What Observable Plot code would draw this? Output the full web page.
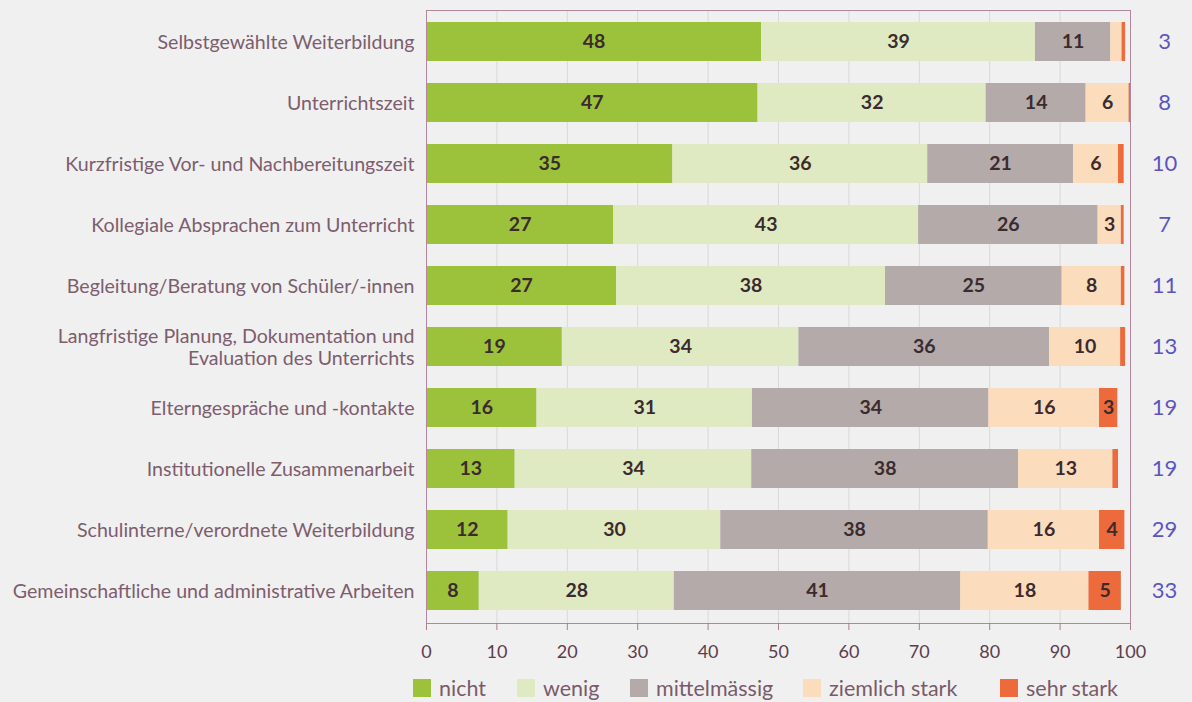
<!DOCTYPE html>
<html><head><meta charset="utf-8">
<script src="https://cdn.jsdelivr.net/npm/d3@7"></script>
<script src="https://cdn.jsdelivr.net/npm/@observablehq/plot@0.6"></script>
<style>
body{margin:0;background:#f0f0f0;font-family:Lato,sans-serif;}
#legend{position:relative;height:37px;font-size:21.5px;color:#7a5a6a;}
.item{position:absolute;top:10px;display:flex;align-items:center;gap:8px}
.sw{width:18px;height:18px;display:inline-block}
</style></head><body>
<div id="chart"></div><div id="legend"></div>
<script>
const categories = [
  "Selbstgewählte Weiterbildung",
  "Unterrichtszeit",
  "Kurzfristige Vor- und Nachbereitungszeit",
  "Kollegiale Absprachen zum Unterricht",
  "Begleitung/Beratung von Schüler/-innen",
  "Langfristige Planung, Dokumentation und\nEvaluation des Unterrichts",
  "Elterngespräche und -kontakte",
  "Institutionelle Zusammenarbeit",
  "Schulinterne/verordnete Weiterbildung",
  "Gemeinschaftliche und administrative Arbeiten"
];
const seriesNames = ["nicht","wenig","mittelmässig","ziemlich stark","sehr stark"];
const seriesColors = ["#9cc23c","#dfeac2","#b4aaa9","#fbdcbd","#ec6a3c"];
const nicht    = [47.6,47.1,35.0,26.6,27.0,19.3,15.7,12.6,11.6,7.5];
const wenig    = [38.9,32.4,36.2,43.3,38.2,33.6,30.6,33.6,30.2,27.7];
const mittel   = [10.7,14.2,20.7,25.5,25.1,35.6,33.6,37.9,38.0,40.7];
const ziemlich = [1.6,6.1,6.4,3.3,8.4,10.1,15.7,13.4,15.8,18.2];
const sehr     = [0.5,0.2,0.8,0.4,0.5,0.7,2.6,0.8,3.6,4.6];
const rechts   = [3,8,10,7,11,13,19,19,29,33];
const xTicks   = [0,10,20,30,40,50,60,70,80,90,100];

const seriesValues = [nicht, wenig, mittel, ziemlich, sehr];
const data = [];
categories.forEach((c, i) => {
  seriesNames.forEach((s, j) => data.push({cat: c, series: s, value: seriesValues[j][i]}));
});
const rightData = categories.map((c, i) => ({cat: c, v: rechts[i]}));

const chart = Plot.plot({
  width: 1192,
  height: 665,
  marginLeft: 426,
  marginRight: 62,
  marginTop: 10,
  marginBottom: 42,
  style: {background: "transparent", fontFamily: "Lato, sans-serif"},
  x: {domain: [0, 100], axis: null, label: null},
  y: {domain: categories, axis: null, paddingInner: 0.36, paddingOuter: 0.19},
  color: {domain: seriesNames, range: seriesColors},
  marks: [
    Plot.gridX({ticks: xTicks, stroke: "#d9d9d9", strokeOpacity: 1}),
    Plot.barX(data, Plot.stackX({x: "value", y: "cat", fill: "series", order: seriesNames})),
    Plot.text(data, Plot.stackX({
      x: "value", y: "cat", z: "series", order: seriesNames,
      text: d => d.value >= 2.5 ? String(Math.round(d.value)) : null,
      fontSize: 19.5, fontWeight: 700, fill: "#3b2b2e"
    })),
    Plot.text(categories, {y: d => d, text: d => d, frameAnchor: "left", textAnchor: "end", dx: -12,
      fontSize: 19.6, lineHeight: 1.15, fill: "#7d5d6e"}),
    Plot.text(rightData, {y: "cat", text: d => String(d.v), frameAnchor: "right", textAnchor: "middle", dx: 34,
      fontSize: 22, fill: "#5b55c0"}),
    Plot.frame({stroke: "#b2879c"}),
    Plot.axisX({ticks: xTicks, tickSize: 7, tickPadding: 15, fontSize: 18, stroke: "#a77d92", fill: "#5d3d4d", label: null})
  ]
});
document.getElementById("chart").appendChild(chart);

const legendLefts = [413, 517, 630, 803, 1000];
const legend = document.getElementById("legend");
seriesNames.forEach((s, j) => {
  const item = document.createElement("div");
  item.className = "item";
  item.style.left = legendLefts[j] + "px";
  const sw = document.createElement("span");
  sw.className = "sw";
  sw.style.background = seriesColors[j];
  const t = document.createElement("span");
  t.textContent = s;
  item.appendChild(sw); item.appendChild(t);
  legend.appendChild(item);
});
</script>
</body></html>
